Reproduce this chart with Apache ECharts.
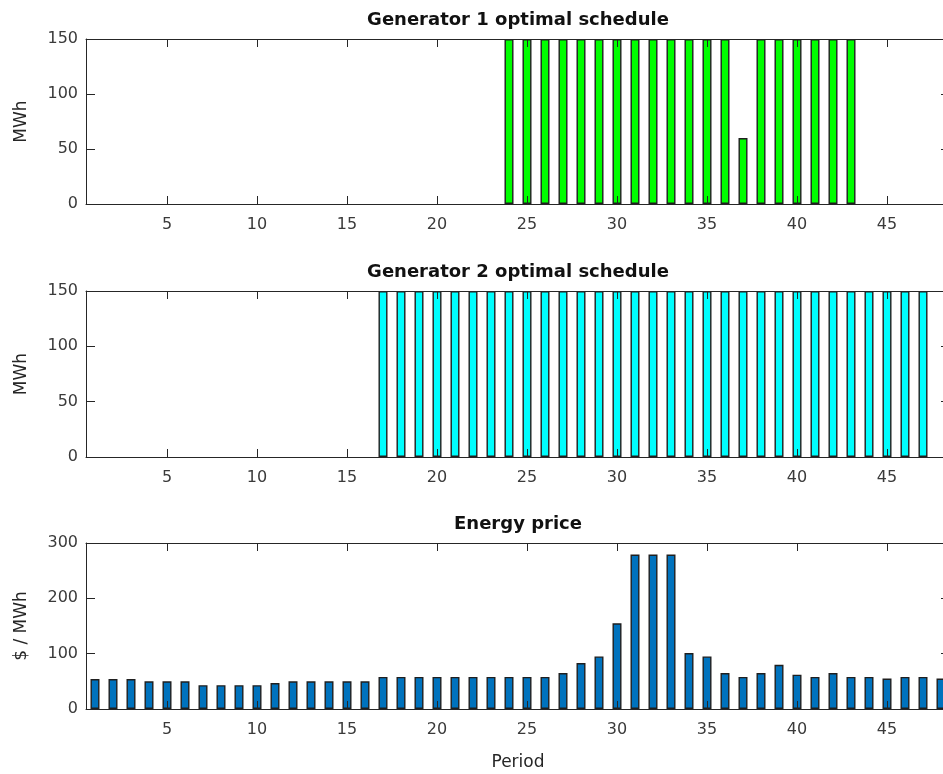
<!DOCTYPE html>
<html><head><meta charset="utf-8">
<script src="https://cdn.jsdelivr.net/npm/echarts@6/dist/echarts.min.js"></script>
<style>html,body{margin:0;padding:0;overflow:hidden;background:#fff}#c{width:960px;height:774px}</style>
</head><body><div id="c"></div>
<script>
const periods = [1,2,3,4,5,6,7,8,9,10,11,12,13,14,15,16,17,18,19,20,21,22,23,24,25,26,27,28,29,30,31,32,33,34,35,36,37,38,39,40,41,42,43,44,45,46,47,48];
const gen1 = [0,0,0,0,0,0,0,0,0,0,0,0,0,0,0,0,0,0,0,0,0,0,0,150,150,150,150,150,150,150,150,150,150,150,150,150,60,150,150,150,150,150,150,0,0,0,0,0];
const gen2 = [0,0,0,0,0,0,0,0,0,0,0,0,0,0,0,0,150,150,150,150,150,150,150,150,150,150,150,150,150,150,150,150,150,150,150,150,150,150,150,150,150,150,150,150,150,150,150,0];
const price = [54,54,54,50,50,50,43,43,43,43,47,50,50,50,50,50,58,58,58,58,58,58,58,58,58,58,65,83,95,155,279,279,279,101,95,65,58,65,80,62,58,65,58,58,55,58,58,55];
const titles = ['Generator 1 optimal schedule', 'Generator 2 optimal schedule', 'Energy price'];
const yNames = ['MWh', 'MWh', '$ / MWh'];
const xName = 'Period';
const yMax = [150, 150, 300];
const yStep = [50, 50, 100];

const FONT = '"DejaVu Sans", sans-serif';
const AX = '#262626';
const grids = [
  {left: 86, top: 39, width: 864, height: 165},
  {left: 86, top: 291, width: 864, height: 166},
  {left: 86, top: 543, width: 864, height: 166}
];
const showTick = (i) => periods[i] % 5 === 0;
const xAxes = [], yAxes = [];
grids.forEach((g, gi) => {
  ['bottom', 'top'].forEach(pos => {
    xAxes.push({
      type: 'category', gridIndex: gi, position: pos, data: periods, boundaryGap: true, z: 5,
      axisLine: {show: true, onZero: false, lineStyle: {color: AX, width: 1}},
      axisTick: {show: true, inside: true, length: 8, alignWithLabel: true, interval: showTick, lineStyle: {color: AX}},
      axisLabel: {show: pos === 'bottom', interval: showTick, margin: 13, fontFamily: FONT, fontSize: 16, color: '#3a3a3a'},
      splitLine: {show: false}
    });
  });
  ['left', 'right'].forEach(pos => {
    yAxes.push({
      type: 'value', gridIndex: gi, position: pos, min: 0, max: yMax[gi], interval: yStep[gi], z: 5,
      axisLine: {show: true, lineStyle: {color: AX, width: 1}},
      axisTick: {show: true, inside: true, length: 9, lineStyle: {color: AX}},
      axisLabel: {show: pos === 'left', margin: 8, fontFamily: FONT, fontSize: 16, color: '#3a3a3a'},
      splitLine: {show: false}
    });
  });
});
const colors = ['#00ff00', '#00ffff', '#0072bd'];
const seriesData = [gen1, gen2, price];
const series = seriesData.map((d, i) => ({
  type: 'bar', xAxisIndex: i * 2, yAxisIndex: i * 2,
  data: d.map(v => v === 0 ? {value: v, itemStyle: {borderWidth: 0}} : v),
  barWidth: '50%',
  itemStyle: {color: colors[i], borderColor: '#1f1f1f', borderWidth: 1.4},
  z: 2
}));
const titleY = [20, 272, 524];
const graphic = [];
titles.forEach((t, i) => graphic.push({type: 'text', x: 518, y: titleY[i], z: 10,
  style: {text: t, font: 'bold 18px ' + FONT, fill: '#111', align: 'center', verticalAlign: 'middle'}}));
yNames.forEach((t, i) => {
  const g = grids[i];
  graphic.push({type: 'text', x: 22, y: g.top + g.height / 2, rotation: Math.PI / 2, z: 10,
    style: {text: t, font: '17px ' + FONT, fill: '#262626', align: 'center', verticalAlign: 'middle'}});
});
graphic.push({type: 'text', x: 518, y: 763, z: 10,
  style: {text: xName, font: '17px ' + FONT, fill: '#262626', align: 'center', verticalAlign: 'middle'}});

const chart = echarts.init(document.getElementById('c'), null, {renderer: 'canvas'});
chart.setOption({
  animation: false,
  backgroundColor: '#fff',
  grid: grids,
  xAxis: xAxes,
  yAxis: yAxes,
  series: series,
  graphic: graphic
});
</script></body></html>
